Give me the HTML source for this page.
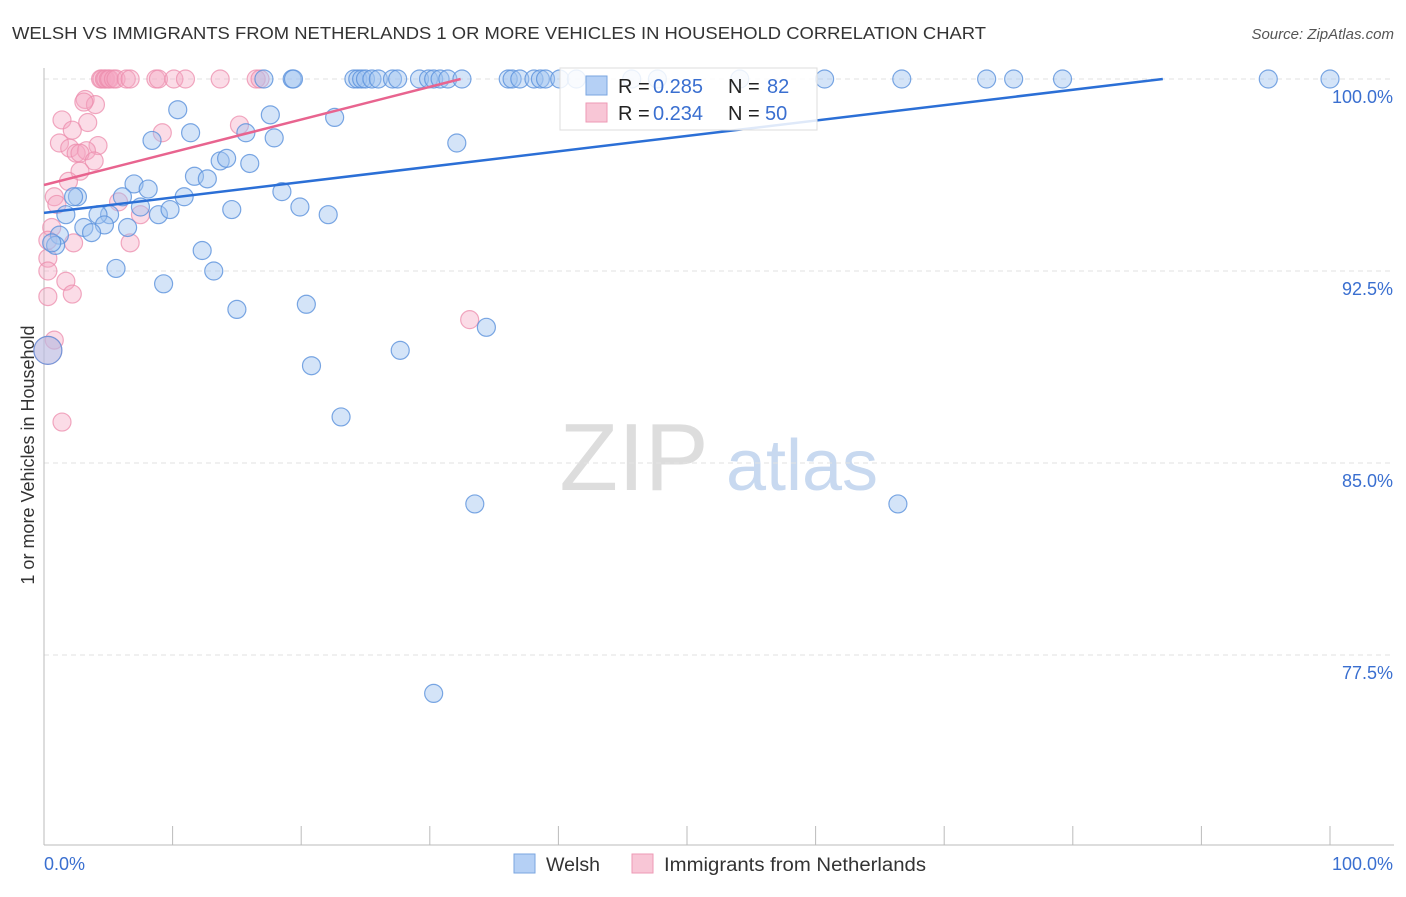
<!DOCTYPE html>
<html><head><meta charset="utf-8"><style>
body{margin:0;background:#fff;font-family:"Liberation Sans",sans-serif;}
svg text{font-family:"Liberation Sans",sans-serif;}
</style></head><body>
<svg id="c" width="1406" height="892">
<text x="12" y="39" font-size="17.5" fill="#333" textLength="974" lengthAdjust="spacingAndGlyphs">WELSH VS IMMIGRANTS FROM NETHERLANDS 1 OR MORE VEHICLES IN HOUSEHOLD CORRELATION CHART</text>
<text x="1394" y="39" font-size="15" fill="#555" text-anchor="end" font-style="italic">Source: ZipAtlas.com</text>
<text x="34" y="455" font-size="18" fill="#333" text-anchor="middle" transform="rotate(-90 34 455)">1 or more Vehicles in Household</text>
<g><text x="634" y="490" font-size="96" fill="#ddd" font-family="Liberation Serif" text-anchor="middle">ZIP</text><text x="802" y="490" font-size="72" fill="#c8d9f0" text-anchor="middle">atlas</text></g>
<g id="grid"></g><g id="pts"></g><g id="trend"></g>
<g>
<rect x="560" y="68" width="257" height="62" fill="#fff" fill-opacity="0.85" stroke="#ddd"/>
<rect x="586" y="76" width="21" height="19" fill="#b5d0f5" stroke="#7aa6e0"/>
<rect x="586" y="103" width="21" height="19" fill="#f8c6d6" stroke="#ee9ab5"/>
<text x="618" y="93" font-size="20" fill="#222">R =</text><text x="653" y="93" font-size="20" fill="#3a6fd0">0.285</text>
<text x="728" y="93" font-size="20" fill="#222">N =</text><text x="767" y="93" font-size="20" fill="#3a6fd0">82</text>
<text x="618" y="120" font-size="20" fill="#222">R =</text><text x="653" y="120" font-size="20" fill="#3a6fd0">0.234</text>
<text x="728" y="120" font-size="20" fill="#222">N =</text><text x="765" y="120" font-size="20" fill="#3a6fd0">50</text>
</g>
<g>
<rect x="514" y="854" width="21" height="19" fill="#b5d0f5" stroke="#7aa6e0"/><text x="546" y="871" font-size="19" fill="#333" textLength="54" lengthAdjust="spacingAndGlyphs">Welsh</text>
<rect x="632" y="854" width="21" height="19" fill="#f8c6d6" stroke="#ee9ab5"/><text x="664" y="871" font-size="19" fill="#333" textLength="262" lengthAdjust="spacingAndGlyphs">Immigrants from Netherlands</text>
</g>
</svg>
<script>
const yTicks=[100,92.5,85,77.5];
const yTickLabels=["100.0%","92.5%","85.0%","77.5%"];
const xTicks=[0,10,20,30,40,50,60,70,80,90,100];
const welshX=[17.1,19.3,19.4,24.1,24.4,24.7,25.0,25.5,26.0,27.1,27.5,29.2,29.9,30.3,30.8,31.4,32.5,36.1,36.4,37.0,38.1,38.6,39.0,40.1,41.4,45.7,47.7,54.1,60.7,66.7,73.3,75.4,79.2,95.2,100,
 10.4,11.4,8.4,17.6,15.7,17.9,22.6,32.1,11.7,12.7,13.7,14.2,16.0,7.0,8.1,10.9,6.1,2.6,2.3,18.5,19.9,22.1,14.6,7.5,8.9,9.8,5.1,4.2,1.7,4.7,3.1,3.7,6.5,1.2,0.9,0.6,5.6,12.3,13.2,9.3,15.0,20.4,34.4,27.7,20.8,0.3,23.1,33.5,66.4,30.3];
const welshY=[100,100,100,100,100,100,100,100,100,100,100,100,100,100,100,100,100,100,100,100,100,100,100,100,100,100,100,100,100,100,100,100,100,100,100,
 98.8,97.9,97.6,98.6,97.9,97.7,98.5,97.5,96.2,96.1,96.8,96.9,96.7,95.9,95.7,95.4,95.4,95.4,95.4,95.6,95.0,94.7,94.9,95.0,94.7,94.9,94.7,94.7,94.7,94.3,94.2,94.0,94.2,93.9,93.5,93.6,92.6,93.3,92.5,92.0,91.0,91.2,90.3,89.4,88.8,89.4,86.8,83.4,83.4,76.0];
const nethX=[4.4,4.5,4.7,4.8,5.0,5.1,5.4,5.6,6.4,6.7,8.7,8.9,10.1,11.0,13.7,16.5,16.8,
 3.2,4.0,3.1,1.4,3.4,2.2,9.2,15.2,1.2,2.0,4.2,2.5,3.3,2.8,3.9,2.8,1.9,0.8,1.0,5.8,7.5,0.6,0.3,2.3,6.7,0.3,0.3,1.7,2.2,0.3,0.8,0.3,1.4,33.1];
const nethY=[100,100,100,100,100,100,100,100,100,100,100,100,100,100,100,100,100,
 99.2,99.0,99.1,98.4,98.3,98.0,97.9,98.2,97.5,97.3,97.4,97.1,97.2,97.1,96.8,96.4,96.0,95.4,95.1,95.2,94.7,94.2,93.7,93.6,93.6,93.0,92.5,92.1,91.6,91.5,89.8,89.4,86.6,90.6];
const welshTrend=[0,94.77,87,100];
const nethTrend=[0,95.86,32.4,100];
const NS="http://www.w3.org/2000/svg";
const X=v=>44+v*12.86, Y=v=>79+(100-v)*25.6;
function mk(t,a,p){const e=document.createElementNS(NS,t);for(const k in a)e.setAttribute(k,a[k]);p.appendChild(e);return e;}
const grid=document.getElementById('grid');
yTicks.forEach((t,i)=>{
 const l=mk('line',{x1:44,x2:1394,y1:Y(t),y2:Y(t),stroke:'#e2e2e2','stroke-dasharray':'5,4'},grid);
 
 
 const tx=mk('text',{x:1393,y:Y(t)+24,'font-size':18,fill:'#3a6fd0','text-anchor':'end'},grid);tx.textContent=yTickLabels[i];
 
 
});
const ax=mk('line',{x1:44,x2:44,y1:68,y2:845,stroke:'#bbb'},grid);


const bx=mk('line',{x1:44,x2:1394,y1:845,y2:845,stroke:'#bbb'},grid);


xTicks.forEach(t=>{const l=mk('line',{x1:X(t),x2:X(t),y1:826,y2:845,stroke:'#bbb'},grid);
 
 });
let t0=mk('text',{x:44,y:870,'font-size':18,fill:'#3a6fd0'},grid);t0.textContent='0.0%';


let t1=mk('text',{x:1393,y:870,'font-size':18,fill:'#3a6fd0','text-anchor':'end'},grid);t1.textContent='100.0%';


const pts=document.getElementById('pts');
function draw(xs,ys,fill,stroke,name){xs.forEach((x,i)=>{
 const big=(x<0.5&&ys[i]<90&&ys[i]>89);
 const c=mk('circle',{cx:X(x),cy:Y(ys[i]),r:big?14:9,fill:fill,stroke:stroke,'stroke-width':1.2},pts);
 
 });}
draw(nethX,nethY,'rgba(246,168,194,0.4)','rgba(236,140,172,0.75)','netherlands-point');
draw(welshX,welshY,'rgba(160,196,240,0.45)','rgba(90,145,220,0.8)','welsh-point');
const tr=document.getElementById('trend');
const a=mk('line',{x1:X(welshTrend[0]),y1:Y(welshTrend[1]),x2:X(welshTrend[2]),y2:Y(welshTrend[3]),stroke:'#2b6fd6','stroke-width':2.5},tr);


const b=mk('line',{x1:X(nethTrend[0]),y1:Y(nethTrend[1]),x2:X(nethTrend[2]),y2:Y(nethTrend[3]),stroke:'#e8648f','stroke-width':2.5},tr);


</script>
</body></html>
